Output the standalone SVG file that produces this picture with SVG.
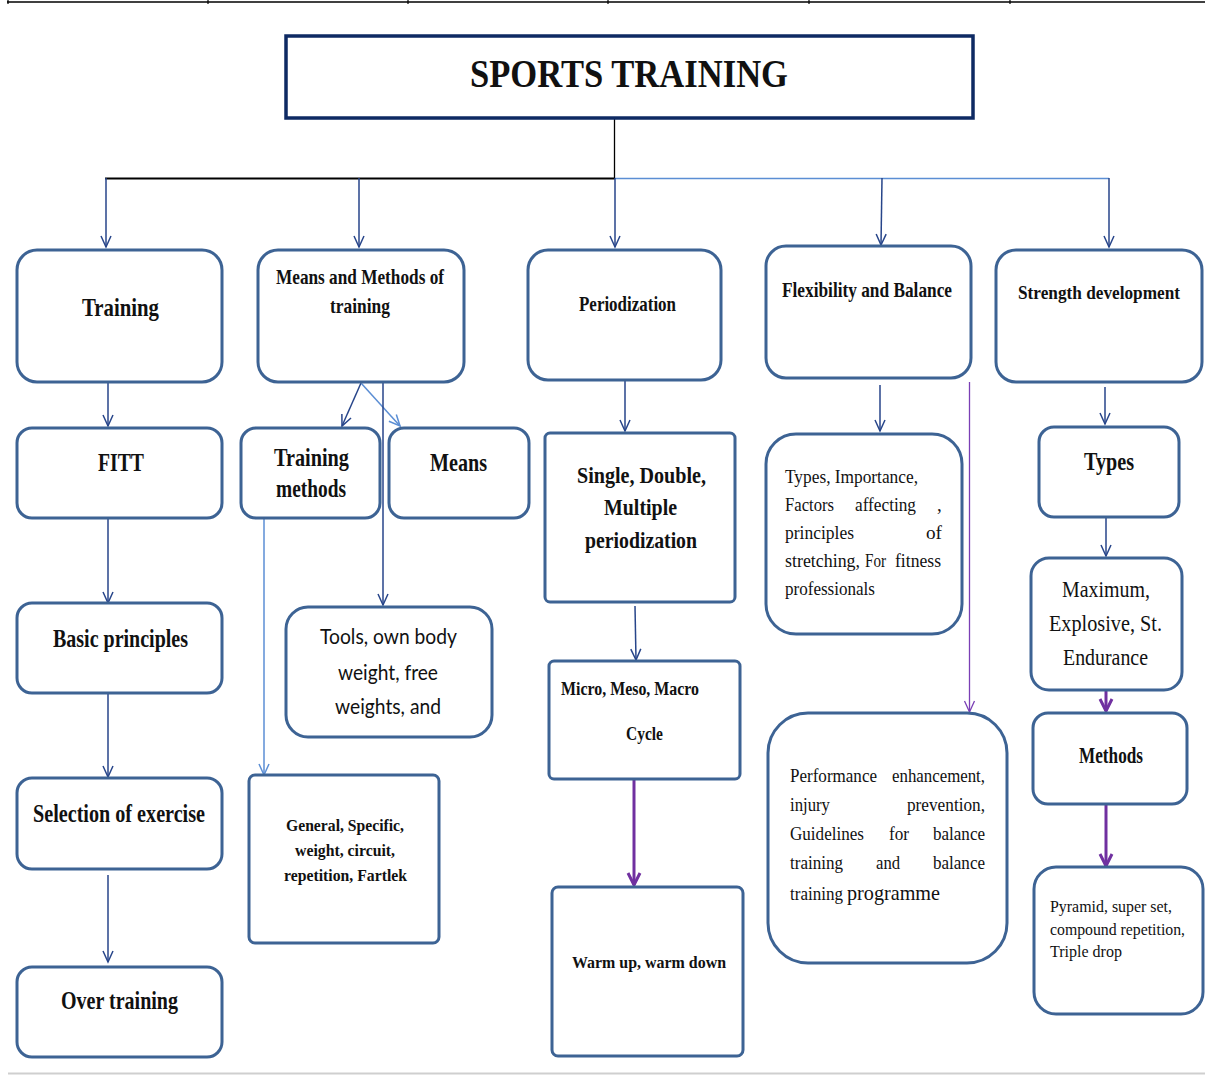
<svg xmlns="http://www.w3.org/2000/svg" width="1205" height="1075" viewBox="0 0 1205 1075">
  <style>
    .box { fill: #ffffff; stroke: #3d6394; stroke-width: 3; }
    .title-box { fill: #ffffff; stroke: #0e2a63; stroke-width: 3.5; }
    .lbl { font-family: "Liberation Serif", "Times New Roman", serif; font-weight: bold; fill: #111111; }
    .txt { font-family: "Liberation Serif", "Times New Roman", serif; font-weight: normal; fill: #111111; }
    .sans { font-family: Lato, "Open Sans", "Liberation Sans", sans-serif; font-weight: normal; fill: #111111; }
    .navy { stroke: #27458a; stroke-width: 1.5; fill: none; }
    .light { stroke: #5b8ed4; stroke-width: 1.5; fill: none; }
    .purple { stroke: #7a3fb5; stroke-width: 1.3; fill: none; }
    .purple-thick { stroke: #7030a0; stroke-width: 3; fill: none; }
  </style>
  <defs>
    <marker id="ah-navy" markerUnits="userSpaceOnUse" viewBox="-12 -7 14 14" markerWidth="14" markerHeight="14" refX="0" refY="0" orient="auto">
      <path d="M-11,-5 L0,0 L-11,5" fill="none" stroke="#27458a" stroke-width="1.5"/>
    </marker>
    <marker id="ah-light" markerUnits="userSpaceOnUse" viewBox="-12 -7 14 14" markerWidth="14" markerHeight="14" refX="0" refY="0" orient="auto">
      <path d="M-11,-5 L0,0 L-11,5" fill="none" stroke="#5b8ed4" stroke-width="1.5"/>
    </marker>
    <marker id="ah-purple" markerUnits="userSpaceOnUse" viewBox="-12 -7 14 14" markerWidth="14" markerHeight="14" refX="0" refY="0" orient="auto">
      <path d="M-11,-5 L0,0 L-11,5" fill="none" stroke="#7a3fb5" stroke-width="1.3"/>
    </marker>
    <marker id="ah-purple-thick" markerUnits="userSpaceOnUse" viewBox="-14 -8 16 16" markerWidth="16" markerHeight="16" refX="0" refY="0" orient="auto">
      <path d="M-12,-6 L0,0 L-12,6" fill="none" stroke="#7030a0" stroke-width="3"/>
    </marker>
  </defs>

  <!-- page rules -->
  <g id="page-rules">
    <line x1="7" y1="2" x2="1205" y2="2" stroke="#000" stroke-width="1.5"/>
    <g stroke="#000" stroke-width="1.2">
      <line x1="8" y1="0" x2="8" y2="4"/>
      <line x1="208" y1="0" x2="208" y2="4"/>
      <line x1="408" y1="0" x2="408" y2="4"/>
      <line x1="608" y1="0" x2="608" y2="4"/>
      <line x1="809" y1="0" x2="809" y2="4"/>
      <line x1="1010" y1="0" x2="1010" y2="4"/>
    </g>
    <line x1="8" y1="1073.5" x2="1205" y2="1073.5" stroke="#cfcfcf" stroke-width="2"/>
  </g>

  <!-- connectors -->
  <g id="connectors">
    <line x1="614.5" y1="118" x2="614.5" y2="178.5" stroke="#000" stroke-width="1.3"/>
    <line x1="105" y1="178.5" x2="615" y2="178.5" stroke="#000" stroke-width="2"/>
    <line x1="615" y1="178.5" x2="1109" y2="178.5" stroke="#5b8ed4" stroke-width="1.5"/>
    <line class="navy" x1="106" y1="178" x2="106" y2="247" marker-end="url(#ah-navy)"/>
    <line class="navy" x1="359" y1="178" x2="359" y2="247" marker-end="url(#ah-navy)"/>
    <line class="navy" x1="615" y1="178" x2="615" y2="247" marker-end="url(#ah-navy)"/>
    <line class="navy" x1="882" y1="178" x2="881" y2="245" marker-end="url(#ah-navy)"/>
    <line class="navy" x1="1109" y1="178" x2="1109" y2="247" marker-end="url(#ah-navy)"/>

    <!-- Training column -->
    <line class="navy" x1="108" y1="382" x2="108" y2="426" marker-end="url(#ah-navy)"/>
    <line class="navy" x1="108" y1="518" x2="108" y2="603" marker-end="url(#ah-navy)"/>
    <line class="navy" x1="108" y1="693" x2="108" y2="777" marker-end="url(#ah-navy)"/>
    <line class="navy" x1="108" y1="875" x2="108" y2="962" marker-end="url(#ah-navy)"/>

    <!-- Means and Methods column -->
    <line class="navy" x1="361" y1="383" x2="342" y2="426" marker-end="url(#ah-navy)"/>
    <line class="light" x1="361" y1="383" x2="400" y2="426" marker-end="url(#ah-light)"/>
    <line class="navy" x1="383" y1="383" x2="383" y2="605" marker-end="url(#ah-navy)"/>
    <line class="light" x1="264" y1="518" x2="264" y2="775" marker-end="url(#ah-light)"/>

    <!-- Periodization column -->
    <line class="navy" x1="625" y1="376" x2="625" y2="431" marker-end="url(#ah-navy)"/>
    <line class="navy" x1="635" y1="606" x2="636" y2="660" marker-end="url(#ah-navy)"/>
    <line class="purple-thick" x1="634" y1="779" x2="634" y2="885" marker-end="url(#ah-purple-thick)"/>

    <!-- Flexibility column -->
    <line class="navy" x1="880" y1="385" x2="880" y2="431" marker-end="url(#ah-navy)"/>
    <line class="purple" x1="969.5" y1="382" x2="969.5" y2="712" marker-end="url(#ah-purple)"/>

    <!-- Strength column -->
    <line class="navy" x1="1105" y1="387" x2="1105" y2="424" marker-end="url(#ah-navy)"/>
    <line class="navy" x1="1106" y1="507" x2="1106" y2="556" marker-end="url(#ah-navy)"/>
    <line class="purple-thick" x1="1106" y1="691" x2="1106" y2="711" marker-end="url(#ah-purple-thick)"/>
    <line class="purple-thick" x1="1106" y1="804" x2="1106" y2="866" marker-end="url(#ah-purple-thick)"/>
  </g>

  <!-- title -->
  <g id="sports-training">
    <rect class="title-box" x="286" y="36" width="687" height="82"/>
    <text class="lbl" x="470" y="87" font-size="40" textLength="318" lengthAdjust="spacingAndGlyphs">SPORTS TRAINING</text>
  </g>

  <!-- Training column -->
  <g id="training">
    <rect class="box" x="17" y="250" width="205" height="132" rx="20"/>
    <text class="lbl" x="82" y="316" font-size="26" textLength="77" lengthAdjust="spacingAndGlyphs">Training</text>
  </g>
  <g id="fitt">
    <rect class="box" x="17" y="428" width="205" height="90" rx="15"/>
    <text class="lbl" x="98" y="471" font-size="26" textLength="46" lengthAdjust="spacingAndGlyphs">FITT</text>
  </g>
  <g id="basic-principles">
    <rect class="box" x="17" y="603" width="205" height="90" rx="15"/>
    <text class="lbl" x="53" y="647" font-size="25" textLength="135" lengthAdjust="spacingAndGlyphs">Basic principles</text>
  </g>
  <g id="selection-of-exercise">
    <rect class="box" x="17" y="778" width="205" height="91" rx="15"/>
    <text class="lbl" x="33" y="822" font-size="25" textLength="172" lengthAdjust="spacingAndGlyphs">Selection of exercise</text>
  </g>
  <g id="over-training">
    <rect class="box" x="17" y="967" width="205" height="90" rx="15"/>
    <text class="lbl" x="61" y="1009" font-size="25" textLength="117" lengthAdjust="spacingAndGlyphs">Over training</text>
  </g>

  <!-- Means and Methods column -->
  <g id="means-and-methods">
    <rect class="box" x="258" y="250" width="206" height="132" rx="20"/>
    <text class="lbl" x="276" y="284" font-size="21" textLength="168" lengthAdjust="spacingAndGlyphs">Means and Methods of</text>
    <text class="lbl" x="330" y="313" font-size="21" textLength="60" lengthAdjust="spacingAndGlyphs">training</text>
  </g>
  <g id="training-methods">
    <rect class="box" x="241" y="428" width="139" height="90" rx="15"/>
    <text class="lbl" x="274" y="466" font-size="25" textLength="75" lengthAdjust="spacingAndGlyphs">Training</text>
    <text class="lbl" x="276" y="497" font-size="25" textLength="70" lengthAdjust="spacingAndGlyphs">methods</text>
  </g>
  <g id="means">
    <rect class="box" x="389" y="428" width="140" height="90" rx="15"/>
    <text class="lbl" x="430" y="471" font-size="25" textLength="57" lengthAdjust="spacingAndGlyphs">Means</text>
  </g>
  <g id="tools">
    <rect class="box" x="286" y="607" width="206" height="130" rx="22"/>
    <text class="sans" x="320" y="644" font-size="22" textLength="137" lengthAdjust="spacingAndGlyphs">Tools, own body</text>
    <text class="sans" x="338" y="680" font-size="22" textLength="100" lengthAdjust="spacingAndGlyphs">weight, free</text>
    <text class="sans" x="335" y="714" font-size="22" textLength="106" lengthAdjust="spacingAndGlyphs">weights, and</text>
  </g>
  <g id="general-specific">
    <rect class="box" x="249" y="775" width="190" height="168" rx="6"/>
    <text class="lbl" x="286" y="831" font-size="17" textLength="118" lengthAdjust="spacingAndGlyphs">General, Specific,</text>
    <text class="lbl" x="295" y="856" font-size="17" textLength="100" lengthAdjust="spacingAndGlyphs">weight, circuit,</text>
    <text class="lbl" x="284" y="881" font-size="17" textLength="123" lengthAdjust="spacingAndGlyphs">repetition, Fartlek</text>
  </g>

  <!-- Periodization column -->
  <g id="periodization">
    <rect class="box" x="528" y="250" width="193" height="130" rx="20"/>
    <text class="lbl" x="579" y="311" font-size="21" textLength="97" lengthAdjust="spacingAndGlyphs">Periodization</text>
  </g>
  <g id="single-double-multiple">
    <rect class="box" x="545" y="433" width="190" height="169" rx="5"/>
    <text class="lbl" x="577" y="483" font-size="24" textLength="129" lengthAdjust="spacingAndGlyphs">Single, Double,</text>
    <text class="lbl" x="604" y="515" font-size="24" textLength="73" lengthAdjust="spacingAndGlyphs">Multiple</text>
    <text class="lbl" x="585" y="548" font-size="24" textLength="112" lengthAdjust="spacingAndGlyphs">periodization</text>
  </g>
  <g id="micro-meso-macro">
    <rect class="box" x="549" y="661" width="191" height="118" rx="5"/>
    <text class="lbl" x="561" y="695" font-size="18" textLength="138" lengthAdjust="spacingAndGlyphs">Micro, Meso, Macro</text>
    <text class="lbl" x="626" y="740" font-size="18" textLength="37" lengthAdjust="spacingAndGlyphs">Cycle</text>
  </g>
  <g id="warm-up">
    <rect class="box" x="552" y="887" width="191" height="169" rx="6"/>
    <text class="lbl" x="572" y="968" font-size="17" textLength="154" lengthAdjust="spacingAndGlyphs">Warm up, warm down</text>
  </g>

  <!-- Flexibility and Balance column -->
  <g id="flexibility-balance">
    <rect class="box" x="766" y="246" width="205" height="132" rx="20"/>
    <text class="lbl" x="782" y="297" font-size="21" textLength="170" lengthAdjust="spacingAndGlyphs">Flexibility and Balance</text>
  </g>
  <g id="flexibility-types">
    <rect class="box" x="766" y="434" width="196" height="200" rx="30"/>
    <g class="txt" font-size="19">
      <text x="785" y="483" textLength="133" lengthAdjust="spacingAndGlyphs">Types, Importance,</text>
      <text x="785" y="511" textLength="49" lengthAdjust="spacingAndGlyphs">Factors</text>
      <text x="855" y="511" textLength="61" lengthAdjust="spacingAndGlyphs">affecting</text>
      <text x="937" y="511">,</text>
      <text x="785" y="539" textLength="69" lengthAdjust="spacingAndGlyphs">principles</text>
      <text x="926" y="539" textLength="16" lengthAdjust="spacingAndGlyphs">of</text>
      <text x="785" y="567" textLength="75" lengthAdjust="spacingAndGlyphs">stretching,</text>
      <text x="865" y="567" textLength="21" lengthAdjust="spacingAndGlyphs">For</text>
      <text x="895" y="567" textLength="46" lengthAdjust="spacingAndGlyphs">fitness</text>
      <text x="785" y="595" textLength="90" lengthAdjust="spacingAndGlyphs">professionals</text>
    </g>
  </g>
  <g id="balance-training">
    <rect class="box" x="768" y="713" width="239" height="250" rx="40"/>
    <g class="txt" font-size="19">
      <text x="790" y="782" textLength="87" lengthAdjust="spacingAndGlyphs">Performance</text>
      <text x="892" y="782" textLength="93" lengthAdjust="spacingAndGlyphs">enhancement,</text>
      <text x="790" y="811" textLength="40" lengthAdjust="spacingAndGlyphs">injury</text>
      <text x="907" y="811" textLength="78" lengthAdjust="spacingAndGlyphs">prevention,</text>
      <text x="790" y="840" textLength="74" lengthAdjust="spacingAndGlyphs">Guidelines</text>
      <text x="889" y="840" textLength="20" lengthAdjust="spacingAndGlyphs">for</text>
      <text x="933" y="840" textLength="52" lengthAdjust="spacingAndGlyphs">balance</text>
      <text x="790" y="869" textLength="53" lengthAdjust="spacingAndGlyphs">training</text>
      <text x="876" y="869" textLength="24" lengthAdjust="spacingAndGlyphs">and</text>
      <text x="933" y="869" textLength="52" lengthAdjust="spacingAndGlyphs">balance</text>
      <text x="790" y="900" textLength="53" lengthAdjust="spacingAndGlyphs">training</text>
      <text x="847" y="900" font-size="22" textLength="93" lengthAdjust="spacingAndGlyphs">programme</text>
    </g>
  </g>

  <!-- Strength development column -->
  <g id="strength-development">
    <rect class="box" x="996" y="250" width="206" height="132" rx="20"/>
    <text class="lbl" x="1018" y="299" font-size="19.5" textLength="162" lengthAdjust="spacingAndGlyphs">Strength development</text>
  </g>
  <g id="strength-types">
    <rect class="box" x="1039" y="427" width="140" height="90" rx="15"/>
    <text class="lbl" x="1084" y="470" font-size="25" textLength="50" lengthAdjust="spacingAndGlyphs">Types</text>
  </g>
  <g id="maximum-explosive">
    <rect class="box" x="1031" y="558" width="151" height="132" rx="18"/>
    <g class="txt" font-size="23">
      <text x="1062" y="597" textLength="88" lengthAdjust="spacingAndGlyphs">Maximum,</text>
      <text x="1049" y="631" textLength="113" lengthAdjust="spacingAndGlyphs">Explosive, St.</text>
      <text x="1063" y="665" textLength="85" lengthAdjust="spacingAndGlyphs">Endurance</text>
    </g>
  </g>
  <g id="methods">
    <rect class="box" x="1033" y="713" width="154" height="91" rx="15"/>
    <text class="lbl" x="1079" y="763" font-size="23" textLength="64" lengthAdjust="spacingAndGlyphs">Methods</text>
  </g>
  <g id="pyramid">
    <rect class="box" x="1034" y="867" width="169" height="147" rx="22"/>
    <g class="txt" font-size="17">
      <text x="1050" y="912" textLength="122" lengthAdjust="spacingAndGlyphs">Pyramid, super set,</text>
      <text x="1050" y="935" textLength="135" lengthAdjust="spacingAndGlyphs">compound repetition,</text>
      <text x="1050" y="957" textLength="72" lengthAdjust="spacingAndGlyphs">Triple drop</text>
    </g>
  </g>
</svg>
